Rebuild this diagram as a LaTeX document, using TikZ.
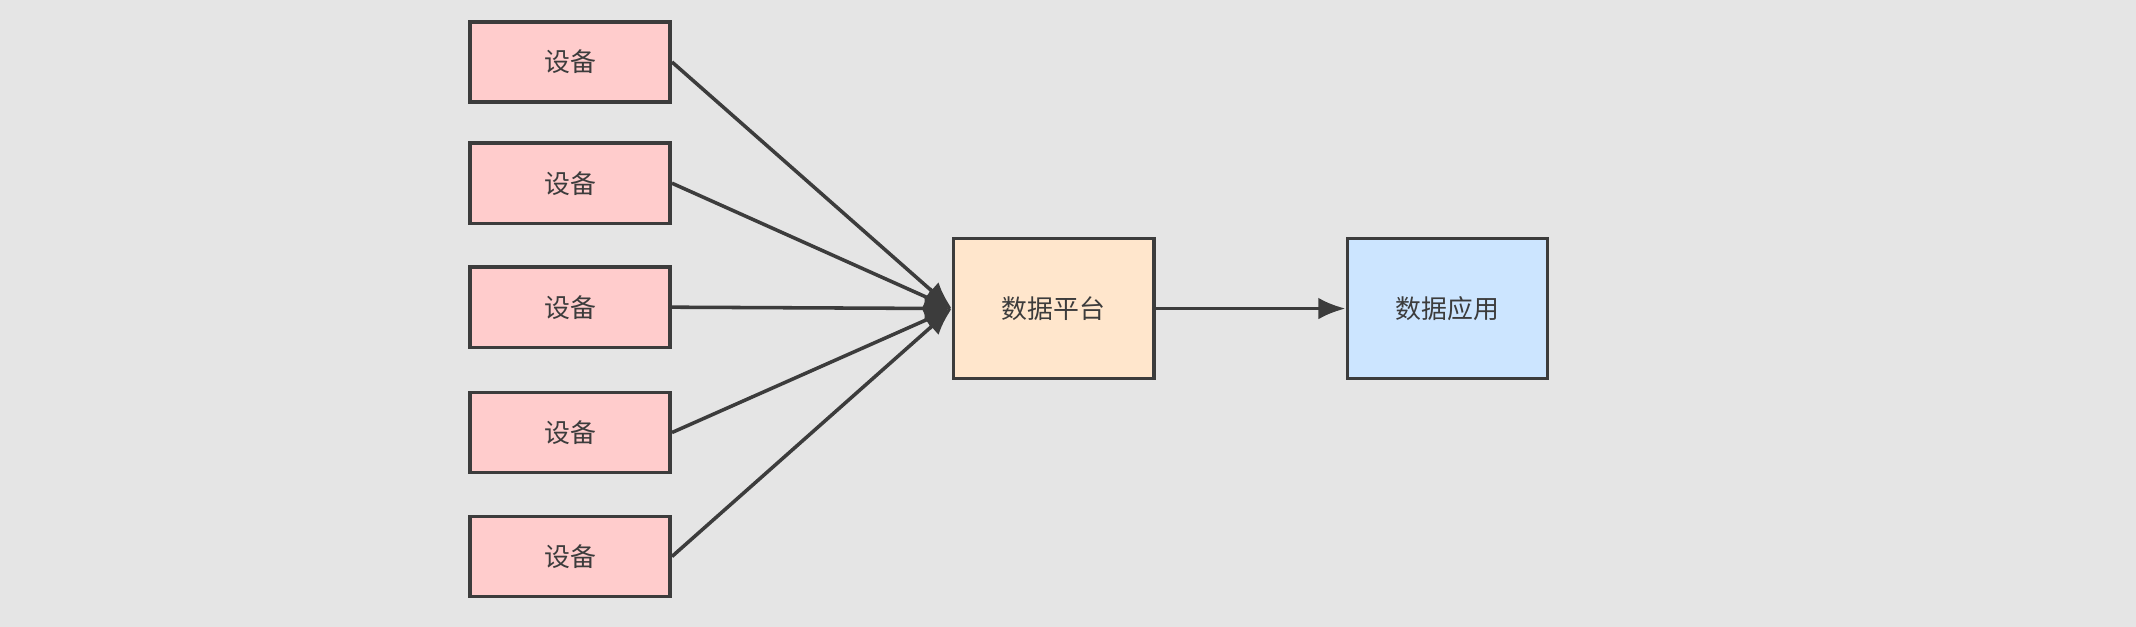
\documentclass[tikz,border=0pt]{standalone}
\usepackage{fontspec}
\setmainfont{Noto Sans CJK SC}
\usetikzlibrary{arrows.meta}
\definecolor{bg}{HTML}{E5E5E5}
\definecolor{ln}{HTML}{3C3C3C}
\definecolor{pk}{HTML}{FFCCCC}
\definecolor{og}{HTML}{FFE6CC}
\definecolor{bl}{HTML}{CCE5FF}
\begin{document}
\begin{tikzpicture}[x=0.5pt,y=-0.5pt,
  box/.style={draw=ln,line width=1.3pt,minimum width=73.5pt,inner sep=0pt,font=\fontsize{9.5pt}{11pt}\selectfont,text=ln},
  dev/.style={box,fill=pk,minimum height=29.5pt},
  big/.style={box,minimum height=51.5pt},
  con/.style={draw=ln,line width=1.3pt,-{Latex[length=10pt,width=8pt]}}]
\fill[bg] (0,0) rectangle (1568,460);
\useasboundingbox (0,0) rectangle (1568,460);
\node[dev] (d1) at (418.5,45.5) {设备};
\node[dev] (d2) at (418.5,134.5) {设备};
\node[dev] (d3) at (418.5,225.5) {设备};
\node[dev] (d4) at (418.5,317.5) {设备};
\node[dev] (d5) at (418.5,408.5) {设备};
\node[big,fill=og] (p) at (773.5,226.5) {数据平台};
\node[big,fill=bl] (a) at (1062.5,226.5) {数据应用};
\foreach \i in {1,...,5} \draw[con] (d\i.east) -- (p.west);
\draw[con] (p) -- (a);
\end{tikzpicture}
\end{document}
